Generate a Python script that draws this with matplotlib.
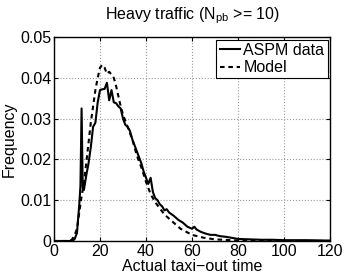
import matplotlib
matplotlib.use("Agg")
import matplotlib.pyplot as plt
from matplotlib.ticker import FuncFormatter

plt.rcParams['font.family'] = ['Liberation Sans', 'DejaVu Sans']
plt.rcParams['mathtext.fontset'] = 'custom'
plt.rcParams['mathtext.rm'] = 'Liberation Sans'

# ASPM data (solid)
data_x = [0, 8, 9, 10, 11, 11.5, 12, 12.5, 13, 14, 15, 16, 17, 18, 19, 20, 21, 22, 23,
          24, 25, 26, 27, 28, 29, 30, 31, 32, 33, 34, 35, 36, 37, 38, 39, 40, 41, 42,
          43, 44, 45, 46, 47, 48, 49, 50, 52, 54, 56, 58, 60, 61, 62, 64, 66, 68, 70,
          72, 75, 78, 80, 85, 90, 95, 100, 110, 120]
data_y = [0, 0, 0.0005, 0.002, 0.009, 0.0135, 0.0325, 0.013, 0.0125, 0.016, 0.019,
          0.023, 0.028, 0.029, 0.034, 0.037, 0.0372, 0.0373, 0.0388, 0.0345, 0.037,
          0.034, 0.0338, 0.033, 0.0325, 0.030, 0.0285, 0.028, 0.027, 0.025, 0.0235,
          0.022, 0.0205, 0.019, 0.017, 0.0155, 0.014, 0.0155, 0.012, 0.0105, 0.010,
          0.009, 0.0085, 0.0075, 0.0078, 0.007, 0.0062, 0.0052, 0.0045, 0.0035, 0.003,
          0.0035, 0.0028, 0.0022, 0.0018, 0.0015, 0.0015, 0.0012, 0.001, 0.0007,
          0.0005, 0.0004, 0.0003, 0.0003, 0.0002, 0.0002, 0.0001]

# Model (dashed)
model_x = [0, 7, 8, 9, 10, 11, 12, 13, 14, 15, 16, 17, 18, 19, 20, 21, 22, 23, 24,
           25, 26, 27, 28, 29, 30, 32, 34, 36, 38, 40, 42, 44, 46, 48, 50, 55, 60, 65,
           70, 80, 90, 120]
model_y = [0, 0, 0.0005, 0.0015, 0.003, 0.007, 0.011, 0.014, 0.019, 0.024, 0.029,
           0.033, 0.037, 0.040, 0.0425, 0.0432, 0.0425, 0.041, 0.0415, 0.0408, 0.040,
           0.038, 0.0355, 0.033, 0.031, 0.028, 0.025, 0.021, 0.018, 0.0145, 0.0115,
           0.0095, 0.008, 0.0065, 0.0055, 0.003, 0.0015, 0.0008, 0.0004, 0.0001, 0, 0]

fig = plt.figure(figsize=(3.46, 2.77), dpi=100)
ax = fig.add_axes([0.156, 0.130, 0.798, 0.736])

ax.plot(data_x, data_y, 'k-', lw=1.5, label='ASPM data')
ax.plot(model_x, model_y, 'k--', lw=1.5, dashes=(2.2, 1.8), label='Model')

ax.set_xlim(0, 120)
ax.set_ylim(0, 0.05)
ax.set_xticks(range(0, 121, 20))
ax.set_yticks([0, 0.01, 0.02, 0.03, 0.04, 0.05])
ax.yaxis.set_major_formatter(FuncFormatter(lambda v, p: '0' if v == 0 else f'{v:.2f}'))
ax.tick_params(direction='in', length=3, labelsize=11.5, top=True, right=True, pad=2)
ax.grid(True, linestyle=':', color='#999999', lw=0.8)
for s in ax.spines.values():
    s.set_linewidth(1.0)

ax.set_xlabel('Actual taxi\u2212out time', fontsize=11.5, labelpad=0)
ax.set_ylabel('Frequency', fontsize=11.5, labelpad=2)
ax.set_title(r'Heavy traffic (N$_{\rm pb}$ >= 10)', fontsize=11.5, pad=13)

leg = ax.legend(loc='upper right', fontsize=11.5, handlelength=1.3, handletextpad=0.2,
                borderpad=0.2, labelspacing=0.15, borderaxespad=0.15, fancybox=False,
                framealpha=1, edgecolor='k')
leg.get_frame().set_linewidth(0.8)

fig.savefig('out.png', dpi=100)
